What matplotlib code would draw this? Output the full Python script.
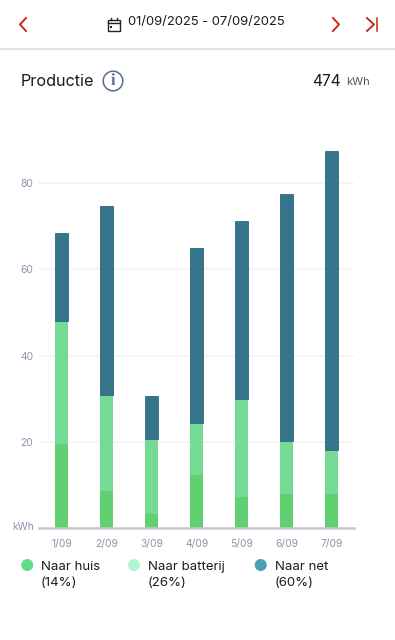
import matplotlib
matplotlib.use('Agg')
import matplotlib.pyplot as plt
from matplotlib.patches import Circle, Rectangle

plt.rcParams['font.family'] = ['Inter', 'DejaVu Sans']

# Data
dagen = ['1/09', '2/09', '3/09', '4/09', '5/09', '6/09', '7/09']
naar_huis = [19.5, 8.5, 3.3, 12.3, 7.2, 8.0, 8.0]
naar_batterij = [28.5, 22.4, 17.3, 12.1, 22.7, 12.2, 10.1]
naar_net = [20.4, 43.8, 10.0, 40.6, 41.3, 57.3, 69.4]
y_ticks = [20, 40, 60, 80]
legend_labels = ['Naar huis\n(14%)', 'Naar batterij\n(26%)', 'Naar net\n(60%)']
legend_colors = ['#5fdc8c', '#aef6cf', '#48a0b2']

W, H = 395, 640
fig = plt.figure(figsize=(W / 100, H / 100), dpi=100, facecolor='white')

# Overlay in pixels for the app header and the legend
bg = fig.add_axes([0, 0, 1, 1])
bg.set_xlim(0, W)
bg.set_ylim(H, 0)
bg.axis('off')

red = '#c8281e'
dark = '#222222'
bg.plot([26, 20, 26], [18, 24.5, 31], color=red, lw=1.4)
bg.plot([333, 339, 333], [18, 24.5, 31], color=red, lw=1.4)
bg.plot([367, 374, 367], [18, 24.5, 31], color=red, lw=1.4)
bg.plot([377, 377], [18, 31], color=red, lw=1.1)

# calendar icon
bg.add_patch(Rectangle((107.5, 19.5), 12, 11, fill=False, ec=dark, lw=1.0))
bg.plot([107.5, 119.5], [23, 23], color=dark, lw=1.0)
bg.plot([110.5, 110.5], [17.5, 19.5], color=dark, lw=1.0)
bg.plot([116.5, 116.5], [17.5, 19.5], color=dark, lw=1.0)
bg.add_patch(Rectangle((110, 25.5), 2, 2, color=dark, lw=0))

bg.text(127.5, 22, '01/09/2025 - 07/09/2025', fontsize=9.4, color='#1c1c1c', va='center', ha='left')
bg.plot([0, W], [49, 49], color='#e3e3e5', lw=1.6)

bg.text(21, 81, 'Productie', fontsize=11.6, color='#1a1a1a', va='center', ha='left')
bg.add_patch(Circle((113, 81), 9.8, fill=False, ec='#5a6a94', lw=1.1))
bg.text(113, 81, 'i', fontsize=11.5, color='#5a6a94', va='center', ha='center',
        family=['Liberation Serif', 'DejaVu Serif'], fontweight='bold')
bg.text(341, 81, '474', fontsize=11.2, color='#1a1a1a', va='center', ha='right')
bg.text(346, 82, 'kWh', fontsize=8, color='#555555', va='center', ha='left')

# Chart, 0 at y=528 and 80 at y=183
top, bottom = 120, 528
left, right = 39, 354
ax = fig.add_axes([left / W, 1 - bottom / H, (right - left) / W, (bottom - top) / H])
ax.patch.set_alpha(0)
ax.set_xlim(-0.5, 6.5)
ax.set_ylim(0, (bottom - top) / 4.3125)

x = range(len(dagen))
onder = [a + b for a, b in zip(naar_huis, naar_batterij)]
breedte = 13 / 45
ax.bar(x, naar_huis, breedte, color='#60d070', zorder=3)
ax.bar(x, naar_batterij, breedte, bottom=naar_huis, color='#75da94', zorder=3)
ax.bar(x, naar_net, breedte, bottom=onder, color='#35748a', edgecolor='#2a6a7c', lw=0.6, zorder=3)

ax.set_yticks(y_ticks)
ax.set_xticks(list(x))
ax.set_xticklabels(dagen)
ax.grid(axis='y', color='#f3f3f5', lw=1.2, zorder=0)
ax.tick_params(axis='both', length=0, labelsize=7.4, labelcolor='#8d93a8')
ax.tick_params(axis='x', pad=8)
ax.tick_params(axis='y', pad=4)
for s in ['top', 'right', 'left']:
    ax.spines[s].set_visible(False)
ax.spines['bottom'].set_color('#c6c6d0')
ax.spines['bottom'].set_linewidth(1.8)
ax.spines['bottom'].set_zorder(4)

bg.text(34, 527.5, 'kWh', fontsize=7.4, color='#8d93a8', va='center', ha='right')

# Legend
for cx, tx, lab, col in zip([27.3, 134, 260.7], [41, 148, 274.7], legend_labels, legend_colors):
    bg.add_patch(Circle((cx, 565), 6, color=col, lw=0))
    bg.text(tx, 574.7, lab, fontsize=9.5, color='#1c1c1c', va='center', ha='left', linespacing=1.45)

fig.savefig('out.png', dpi=100)
